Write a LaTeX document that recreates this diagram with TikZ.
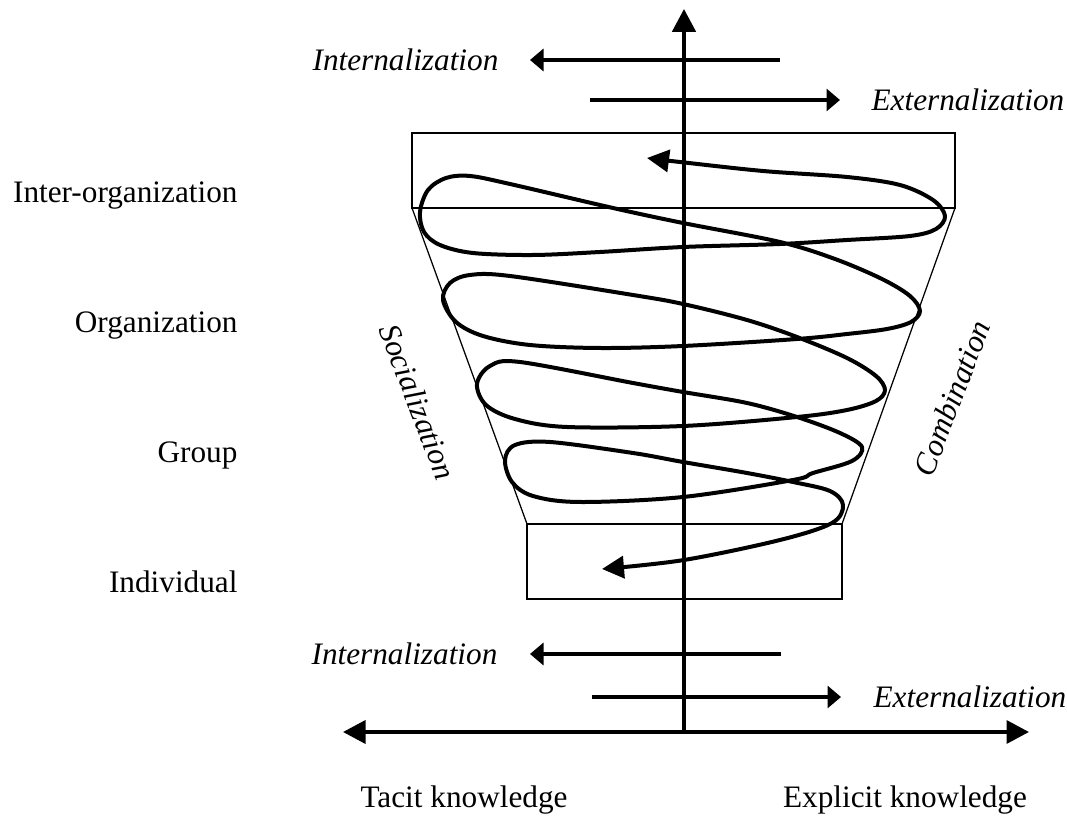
\documentclass[tikz,border=0pt]{standalone}
\usepackage{fontspec}
\setmainfont{Liberation Serif}
\usetikzlibrary{arrows.meta}
\begin{document}
\begin{tikzpicture}[x=0.4pt, y=-0.4pt, font=\fontsize{12.5}{15}\selectfont,
    thinline/.style={line width=0.5pt},
    vaxis/.style={line width=1.4pt, -{Triangle[length=9.2pt,width=9.4pt]}},
    haxis/.style={line width=1.4pt,
        {Triangle[length=9pt,width=9.2pt]}-{Triangle[length=9pt,width=9.2pt]}},
    modearrow/.style={line width=1.3pt, -{Triangle[length=5.4pt,width=8.8pt]}},
    spiral/.style={line width=1.6pt, line join=round,
        {Triangle[length=8.8pt,width=8.8pt]}-{Triangle[length=8.8pt,width=8.8pt]}},
    level/.style={anchor=base east, inner sep=0pt},
    mode/.style={inner sep=0pt, font=\fontsize{12.5}{15}\selectfont\itshape}]
    \useasboundingbox (0,0) rectangle (1067,818);
    %Niveaux : rectangles et entonnoir
    \draw[thinline] (412,133) rectangle (955,208);
    \draw[thinline] (412,208) -- (527,524);
    \draw[thinline] (955,208) -- (842,524);
    \draw[thinline] (527,524) rectangle (842,599);
    %Spirale
    \draw[spiral] plot[smooth, tension=0.55] coordinates {
        (647,158) (680,162) (763,171) (847,177) (900,185) (933,200) (945,216)
        (936,229) (910,236) (847,240) (780,244) (683,247) (600,252) (533,255)
        (473,253) (440,245) (424,232) (420,212) (428,190) (446,178) (470,176)
        (510,184) (613,208) (683,223) (780,242) (835,259) (882,279)
        (910,296) (920,311) (911,322) (887,329) (847,334) (797,339) (683,346)
        (600,348) (530,345) (483,336) (456,322) (443,300) (450,283) (470,275)
        (510,276) (633,295) (683,304) (747,320) (797,337) (847,358)
        (876,376) (885,390) (876,401) (847,410) (797,417) (683,426) (567,427)
        (515,419) (486,405) (477,384) (490,366) (520,362) (633,383)
        (683,392) (747,403) (797,417) (840,433) (862,447) (852,461) (813,473)
        (793,480) (683,497) (580,502) (533,496) (512,482) (505,460) (515,445)
        (550,442) (633,453) (683,462) (747,473) (793,482) (830,491) (843,505)
        (832,523) (780,540) (684,560) (602,569)};
    %Axes
    \coordinate (origin) at (684,732);
    \coordinate (top) at (684,9);
    \coordinate (tacit) at (343,732);
    \coordinate (explicit) at (1029,732);
    \draw[vaxis] (origin) -- (top);
    \draw[haxis] (tacit) -- (explicit);
    %Conversions
    \draw[modearrow] (780,60) -- (530,60) node[mode, anchor=east, xshift=-30*0.4pt] (intTop) {Internalization};
    \draw[modearrow] (590,100) -- (840,100) node[mode, anchor=west, xshift=30*0.4pt] (extTop) {Externalization};
    \draw[modearrow] (781,654) -- (530,654) node[mode, anchor=east, xshift=-31*0.4pt] (intBot) {Internalization};
    \draw[modearrow] (592,697) -- (841,697) node[mode, anchor=west, xshift=31*0.4pt] (extBot) {Externalization};
    \node[mode, rotate=-69] (soc) at (418,402) {Socialization};
    \node[mode, rotate=69] (comb) at (952,398) {Combination};
    %Niveaux
    \node[level] (interorg) at (238,203) {Inter-organization};
    \node[level] (org) at (238,333) {Organization};
    \node[level] (group) at (238,463) {Group};
    \node[level] (indiv) at (238,593) {Individual};
    %Connaissances
    \node[anchor=base, inner sep=0pt] (tacitlbl) at (464,807) {Tacit knowledge};
    \node[anchor=base, inner sep=0pt] (explicitlbl) at (905,807) {Explicit knowledge};
\end{tikzpicture}
\end{document}
